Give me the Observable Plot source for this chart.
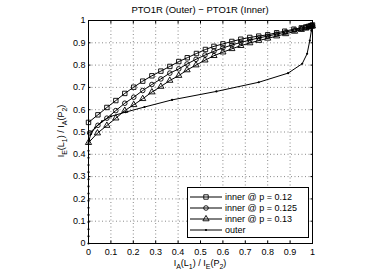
<!DOCTYPE html>
<html><head><meta charset="utf-8">
<script src="https://cdn.jsdelivr.net/npm/d3@7"></script>
<script src="https://cdn.jsdelivr.net/npm/@observablehq/plot@0.6"></script>
<style>body{margin:0;background:#fff}</style>
</head><body><div id="chart"></div>
<script>
const FONT = '"Liberation Sans", Arial, Helvetica, sans-serif';
const title = "PTO1R (Outer) \u2212 PTO1R (Inner)";
const seriesNames = ["inner @ p = 0.12", "inner @ p = 0.125", "inner @ p = 0.13", "outer"];
const tickValues = [0, 0.1, 0.2, 0.3, 0.4, 0.5, 0.6, 0.7, 0.8, 0.9, 1];
const tickLabels = ["0", "0.1", "0.2", "0.3", "0.4", "0.5", "0.6", "0.7", "0.8", "0.9", "1"];

// inner @ p = 0.12 (squares)
const sqX = [0, 0.042, 0.082, 0.122, 0.162, 0.202, 0.242, 0.283, 0.323, 0.363, 0.403, 0.441, 0.482, 0.522, 0.56, 0.60, 0.64, 0.68, 0.72, 0.76, 0.80, 0.84, 0.876, 0.917, 0.95, 0.97, 0.983, 0.993, 1.0];
const sqY = [0.543, 0.577, 0.610, 0.641, 0.673, 0.701, 0.728, 0.752, 0.773, 0.794, 0.816, 0.833, 0.852, 0.870, 0.884, 0.895, 0.906, 0.916, 0.924, 0.930, 0.936, 0.945, 0.952, 0.961, 0.967, 0.971, 0.974, 0.977, 0.98];
// inner @ p = 0.125 (circles)
const ciX = [0.005, 0.042, 0.082, 0.122, 0.162, 0.202, 0.242, 0.283, 0.323, 0.363, 0.403, 0.44, 0.48, 0.52, 0.56, 0.60, 0.64, 0.68, 0.72, 0.76, 0.80, 0.84, 0.88, 0.92, 0.95, 0.97, 0.985, 0.995, 1.0];
const ciY = [0.496, 0.530, 0.562, 0.596, 0.629, 0.656, 0.686, 0.713, 0.738, 0.764, 0.783, 0.805, 0.826, 0.845, 0.862, 0.877, 0.890, 0.902, 0.912, 0.922, 0.930, 0.939, 0.948, 0.957, 0.964, 0.969, 0.973, 0.976, 0.978];
// inner @ p = 0.13 (triangles)
const trX = [0, 0.04, 0.082, 0.122, 0.162, 0.202, 0.242, 0.283, 0.323, 0.363, 0.403, 0.44, 0.48, 0.52, 0.56, 0.60, 0.64, 0.68, 0.72, 0.76, 0.80, 0.84, 0.88, 0.92, 0.95, 0.97, 0.985, 0.995, 1.0];
const trY = [0.452, 0.495, 0.529, 0.562, 0.596, 0.622, 0.649, 0.679, 0.704, 0.731, 0.753, 0.778, 0.800, 0.822, 0.842, 0.858, 0.873, 0.887, 0.899, 0.910, 0.920, 0.930, 0.940, 0.951, 0.959, 0.965, 0.970, 0.973, 0.975];
// outer (small dots)
const ouX = [0, 0, 0, 0, 0, 0, 0, 0, 0, 0, 0, 0, 0, 0, 0, 0.003, 0.01, 0.03, 0.06, 0.1, 0.165, 0.25, 0.373, 0.571, 0.76, 0.891, 0.954, 0.976, 0.988, 0.995, 1.0];
const ouY = [0, 0.032, 0.064, 0.096, 0.128, 0.16, 0.192, 0.224, 0.256, 0.288, 0.32, 0.352, 0.384, 0.416, 0.45, 0.465, 0.49, 0.52, 0.548, 0.57, 0.589, 0.612, 0.644, 0.682, 0.723, 0.764, 0.806, 0.851, 0.91, 0.955, 0.98];

const rows = (xs, ys, s) => xs.map((x, i) => ({x, y: ys[i], s}));
const sq = rows(sqX, sqY, seriesNames[0]);
const ci = rows(ciX, ciY, seriesNames[1]);
const tr = rows(trX, trY, seriesNames[2]);
const ou = rows(ouX, ouY, seriesNames[3]);
const gridVals = tickValues.slice(1, -1);
const fmt = d => tickLabels[tickValues.indexOf(d)];

const chart = Plot.plot({
  width: 385, height: 276,
  marginLeft: 88, marginRight: 73, marginTop: 20, marginBottom: 33,
  style: {fontFamily: FONT, fontSize: "9px", background: "white", color: "black"},
  x: {domain: [0, 1]},
  y: {domain: [0, 1]},
  marks: [
    Plot.gridX(gridVals, {stroke: "#444", strokeOpacity: 0.9, strokeWidth: 0.7, strokeDasharray: "1,2.5"}),
    Plot.gridY(gridVals, {stroke: "#444", strokeOpacity: 0.9, strokeWidth: 0.7, strokeDasharray: "1,2.5"}),
    Plot.axisX(tickValues, {anchor: "bottom", tickSize: 0, tickPadding: 5, tickFormat: fmt, label: null, fill: "black"}),
    Plot.axisY(tickValues, {anchor: "left", tickSize: 0, tickPadding: 3, tickFormat: fmt, label: null, fill: "black"}),
    Plot.axisX(tickValues, {anchor: "bottom", tickSize: -2.5, text: null, label: null, stroke: "black"}),
    Plot.axisX(tickValues, {anchor: "top", tickSize: -2.5, text: null, label: null, stroke: "black"}),
    Plot.axisY(tickValues, {anchor: "left", tickSize: -2.5, text: null, label: null, stroke: "black"}),
    Plot.axisY(tickValues, {anchor: "right", tickSize: -2.5, text: null, label: null, stroke: "black"}),
    Plot.line(ou, {x: "x", y: "y", stroke: "black", strokeWidth: 1}),
    Plot.dot(ou, {x: "x", y: "y", r: 1.1, fill: "black", stroke: "none"}),
    Plot.line(tr, {x: "x", y: "y", stroke: "black", strokeWidth: 1}),
    Plot.dot(tr, {x: "x", y: "y", symbol: "triangle", r: 2.3, fill: "none", stroke: "black", strokeWidth: 0.9}),
    Plot.line(ci, {x: "x", y: "y", stroke: "black", strokeWidth: 1}),
    Plot.dot(ci, {x: "x", y: "y", symbol: "circle", r: 2.3, fill: "none", stroke: "black", strokeWidth: 0.9}),
    Plot.line(sq, {x: "x", y: "y", stroke: "black", strokeWidth: 1}),
    Plot.dot(sq, {x: "x", y: "y", symbol: "square", r: 2.5, fill: "none", stroke: "black", strokeWidth: 0.9}),
    Plot.frame({stroke: "black", strokeWidth: 1})
  ]
});
document.getElementById("chart").appendChild(chart);

const svg = d3.select(chart);
// title
svg.append("text").attr("x", 200).attr("y", 13).attr("text-anchor", "middle")
  .attr("font-family", FONT).attr("font-size", 9.5).attr("fill", "black").text(title);

// label with subscripts: parts alternate normal text / subscript
function subLabel(sel, parts) {
  let shifted = false;
  parts.forEach(([t, s]) => {
    const a = sel.append("tspan").text(t);
    if (shifted) a.attr("dy", -2.5);
    if (s) { sel.append("tspan").attr("dy", 2.5).attr("font-size", 7).text(s); shifted = true; }
    else shifted = false;
  });
}
const xl = svg.append("text").attr("x", 200).attr("y", 266).attr("text-anchor", "middle")
  .attr("font-family", FONT).attr("font-size", 9).attr("fill", "black");
subLabel(xl, [["I", "A"], ["(L", "1"], [") / I", "E"], ["(P", "2"], [")", null]]);
const yl = svg.append("text").attr("transform", "translate(64,131) rotate(-90)").attr("text-anchor", "middle")
  .attr("font-family", FONT).attr("font-size", 9).attr("fill", "black");
subLabel(yl, [["I", "E"], ["(L", "1"], [") / I", "A"], ["(P", "2"], [")", null]]);

// legend
const lg = svg.append("g").attr("font-family", FONT).attr("font-size", 9).attr("text-anchor", "start");
lg.append("rect").attr("x", 187.5).attr("y", 187.5).attr("width", 121).attr("height", 50)
  .attr("fill", "white").attr("stroke", "black").attr("stroke-width", 1);
const symbols = [d3.symbolSquare, d3.symbolCircle, d3.symbolTriangle, null];
const sizes = [Math.PI * 2.5 * 2.5, Math.PI * 2.3 * 2.3, Math.PI * 2.3 * 2.3, 0];
const ys = [197, 208, 219, 230];
seriesNames.forEach((name, i) => {
  const y = ys[i];
  lg.append("line").attr("x1", 190).attr("x2", 222).attr("y1", y).attr("y2", y).attr("stroke", "black");
  if (symbols[i]) {
    lg.append("path").attr("d", d3.symbol(symbols[i], sizes[i])()).attr("transform", `translate(206,${y})`)
      .attr("fill", "none").attr("stroke", "black").attr("stroke-width", 0.9);
  } else {
    lg.append("circle").attr("cx", 206).attr("cy", y).attr("r", 1.1).attr("fill", "black");
  }
  lg.append("text").attr("x", 225).attr("y", y + 3.2).attr("fill", "black").attr("text-anchor", "start").text(name);
});
</script>
</body></html>
